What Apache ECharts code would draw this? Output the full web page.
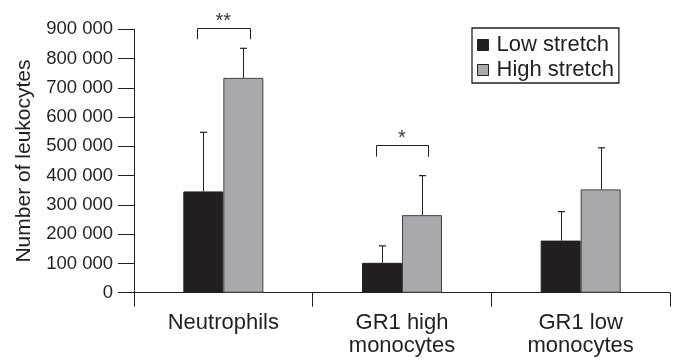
<!DOCTYPE html>
<html>
<head>
<meta charset="utf-8">
<script src="https://cdn.jsdelivr.net/npm/echarts@6/dist/echarts.min.js"></script>
<style>
html,body{margin:0;padding:0;background:#fff;}
#chart{width:676px;height:362px;}
</style>
</head>
<body>
<div id="chart"></div>
<script>
// ---- data ----
var categories = ['Neutrophils', 'GR1 high\nmonocytes', 'GR1 low\nmonocytes'];
var seriesNames = ['Low stretch', 'High stretch'];
var lowValues = [346000, 102000, 178000];
var lowErrors = [202000, 58000, 99000];
var highValues = [734000, 265000, 353000];
var highErrors = [101000, 135000, 142000];
var yTickLabels = ['0', '100 000', '200 000', '300 000', '400 000', '500 000', '600 000', '700 000', '800 000', '900 000'];
var sigCategories = [0, 1];
var sigTop = [905000, 505000];
var sigLegBottom = [866000, 465000];
var sigLabels = ['**', '*'];

// ---- styles ----
var DARK = '#231f20';
var GRAY = '#a7a9ac';
var FONT = '"Liberation Sans", Arial, Helvetica, sans-serif';
var BAR_W = 40;

var chart = echarts.init(document.getElementById('chart'), null, {renderer: 'canvas'});

function errorSeries(values, errors, side) {
  return {
    type: 'custom',
    silent: true,
    z: 5,
    clip: false,
    data: values.map(function (v, i) { return [i, v, v + errors[i]]; }),
    encode: {x: 0, y: [1, 2]},
    renderItem: function (params, api) {
      var base = api.coord([api.value(0), api.value(1)]);
      var top = api.coord([api.value(0), api.value(2)]);
      var x = Math.round(base[0] + side * BAR_W / 2) + 0.5;
      return {
        type: 'group',
        children: [
          {type: 'line', shape: {x1: x, y1: base[1], x2: x, y2: top[1]}, style: {stroke: DARK, lineWidth: 1}},
          {type: 'line', shape: {x1: x - 3.5, y1: top[1], x2: x + 3.5, y2: top[1]}, style: {stroke: DARK, lineWidth: 1.2}}
        ]
      };
    }
  };
}

var option = {
  animation: false,
  backgroundColor: '#fff',
  textStyle: {fontFamily: FONT, color: DARK},
  grid: {left: 134, right: 6, top: 29.3, bottom: 69.3, containLabel: false},
  legend: {
    data: seriesNames.map(function (n) { return {name: n, itemStyle: {borderColor: DARK, borderWidth: 1}}; }),
    orient: 'vertical',
    left: 472,
    top: 28,
    padding: [6, 5, 2, 5],
    itemGap: 3,
    itemWidth: 11,
    itemHeight: 11,
    icon: 'rect',
    borderColor: DARK,
    borderWidth: 1.3,
    textStyle: {fontSize: 22, color: DARK, fontFamily: FONT, padding: [0, 0, 0, 3]},
    selectedMode: false
  },
  xAxis: {
    type: 'category',
    data: categories,
    axisLine: {lineStyle: {color: DARK, width: 1}},
    axisTick: {show: true, interval: 0, length: 14, lineStyle: {color: DARK, width: 1}},
    axisLabel: {fontSize: 22, color: DARK, fontFamily: FONT, margin: 19, lineHeight: 23, interval: 0}
  },
  yAxis: {
    type: 'value',
    min: 0,
    max: 900000,
    interval: 100000,
    name: 'Number of leukocytes',
    nameLocation: 'middle',
    nameGap: 99,
    nameTextStyle: {fontSize: 21, color: DARK, fontFamily: FONT},
    axisLine: {show: true, lineStyle: {color: DARK, width: 1}},
    axisTick: {show: true, length: 16, lineStyle: {color: DARK, width: 1}},
    splitLine: {show: false},
    axisLabel: {
      fontSize: 18.5, color: DARK, fontFamily: FONT, margin: 21,
      formatter: function (v) { return yTickLabels[Math.round(v / 100000)]; }
    }
  },
  series: [
    {
      name: seriesNames[0], type: 'bar', data: lowValues, barWidth: BAR_W, barGap: '0%',
      itemStyle: {color: DARK, borderColor: DARK, borderWidth: 1}
    },
    {
      name: seriesNames[1], type: 'bar', data: highValues, barWidth: BAR_W, barGap: '0%',
      itemStyle: {color: GRAY, borderColor: '#414042', borderWidth: 1}
    },
    errorSeries(lowValues, lowErrors, -1),
    errorSeries(highValues, highErrors, 1),
    {
      type: 'custom',
      silent: true,
      clip: false,
      z: 6,
      data: sigCategories.map(function (c, i) { return [c, sigTop[i], sigLegBottom[i], sigLabels[i]]; }),
      encode: {x: 0, y: [1, 2]},
      renderItem: function (params, api) {
        var i = params.dataIndex;
        var top = api.coord([api.value(0), api.value(1)]);
        var leg = api.coord([api.value(0), api.value(2)]);
        var half = api.size([1, 0])[0] * 0.148;
        var xl = Math.round(top[0] - half) + 0.5;
        var xr = Math.round(top[0] + half) + 0.5;
        var yt = Math.round(top[1]) + 0.5;
        return {
          type: 'group',
          children: [
            {type: 'polyline', shape: {points: [[xl, leg[1]], [xl, yt], [xr, yt], [xr, leg[1]]]}, style: {stroke: DARK, lineWidth: 1, fill: null}},
            {type: 'text', x: top[0], y: top[1] + 4, style: {text: sigLabels[i], fontSize: 20, fontFamily: FONT, fill: '#3a3a3a', align: 'center', verticalAlign: 'bottom'}}
          ]
        };
      }
    }
  ]
};
chart.setOption(option);
</script>
</body>
</html>
